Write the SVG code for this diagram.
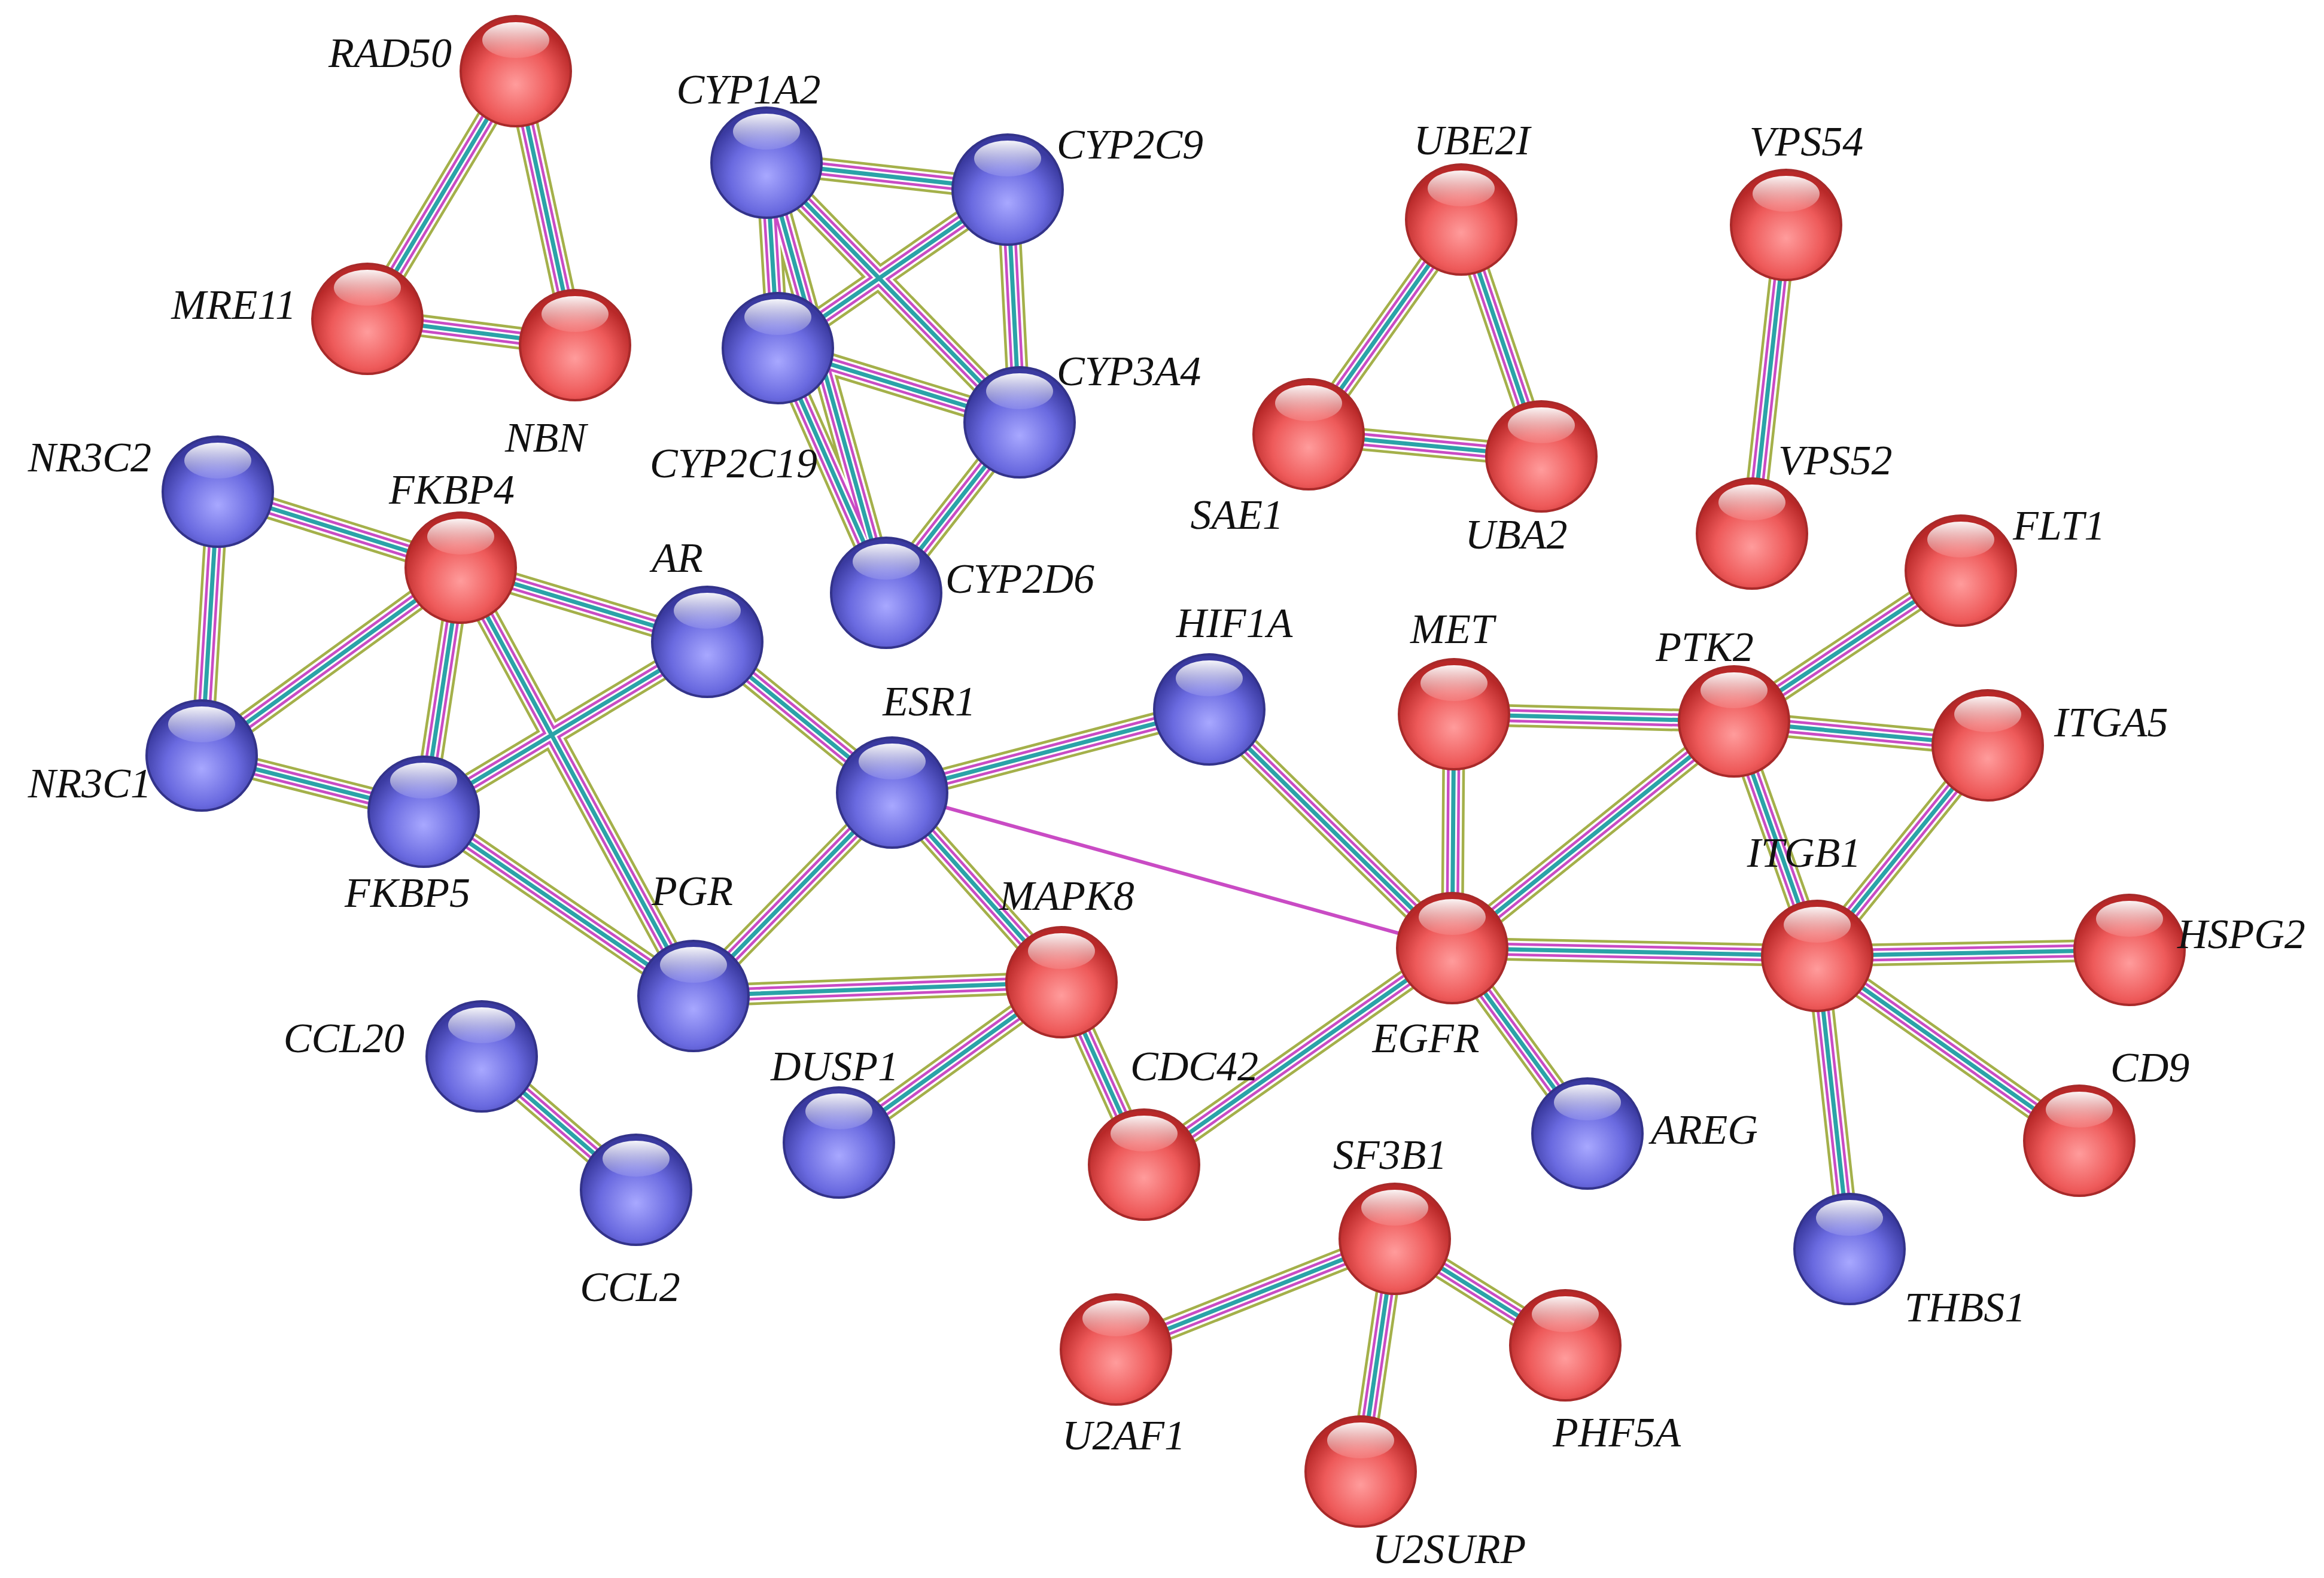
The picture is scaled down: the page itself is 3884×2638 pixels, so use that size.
<svg xmlns="http://www.w3.org/2000/svg" xmlns:xlink="http://www.w3.org/1999/xlink" width="3884" height="2638" viewBox="0 0 3884 2638">
<style>
.s1{stroke:#a4b04a;stroke-width:38;fill:none}
.s2{stroke:#fff;stroke-width:29;fill:none}
.s3{stroke:#c94bc4;stroke-width:22;fill:none}
.s4{stroke:#fff;stroke-width:13;fill:none}
.s5{stroke:#2aa3a8;stroke-width:7;fill:none}
.r use{fill:url(#gr);stroke:#a82a2a;stroke-width:4}
.u use{fill:url(#gb);stroke:#33338a;stroke-width:4}
.h{fill:url(#hl);stroke:none}
text{font-family:"Liberation Serif","DejaVu Serif",serif;font-style:italic;font-size:70px;fill:#111}
</style>
<defs>
<radialGradient id="gr" cx="50%" cy="62%" r="55%"><stop offset="0" stop-color="#ff9c9c"/><stop offset="0.6" stop-color="#ee5a5a"/><stop offset="1" stop-color="#b82828"/></radialGradient>
<radialGradient id="gb" cx="50%" cy="62%" r="55%"><stop offset="0" stop-color="#a8a8ff"/><stop offset="0.6" stop-color="#6a6ae0"/><stop offset="1" stop-color="#3a3aa0"/></radialGradient>
<linearGradient id="hl" x1="0" y1="0" x2="0" y2="1"><stop offset="0" stop-color="#fff" stop-opacity="0.95"/><stop offset="1" stop-color="#fff" stop-opacity="0.1"/></linearGradient>
<g id="E">
<path d="M862 119L614 533M862 119L961 577M614 533L961 577"/>
<path d="M1281 272L1684 317M1281 272L1300 582M1281 272L1704 706M1281 272L1481 991M1684 317L1300 582M1684 317L1704 706M1300 582L1704 706M1300 582L1481 991M1704 706L1481 991"/>
<path d="M2442 367L2187 726M2442 367L2576 763M2187 726L2576 763M2985 376L2928 892"/>
<path d="M364 822L770 949M364 822L337 1263M337 1263L770 949M337 1263L708 1357M770 949L1182 1073M770 949L708 1357M770 949L1159 1665M1182 1073L708 1357M1182 1073L1491 1325M708 1357L1159 1665M1491 1325L1159 1665M1491 1325L2021 1186M1491 1325L1774 1642M1159 1665L1774 1642"/>
<path d="M1774 1642L1402 1910M1774 1642L1912 1947M1912 1947L2427 1585M2021 1186L2427 1585M2430 1194L2898 1206M2430 1194L2427 1585M2898 1206L2427 1585M2898 1206L3277 954M2898 1206L3322 1246M2898 1206L3037 1598M3322 1246L3037 1598M3037 1598L2427 1585M3037 1598L3559 1588M3037 1598L3475 1907M3037 1598L3091 2088M2427 1585L2653 1895"/>
<path d="M2331 2071L1865 2256M2331 2071L2616 2249M2331 2071L2274 2460M805 1766L1063 1989"/>
</g>
<g id="nd"><circle r="92"/><ellipse class="h" cx="0" cy="-52" rx="56" ry="30"/></g>
</defs>
<rect width="3884" height="2638" fill="#fff"/>
<g id="connectors">
<use href="#E" class="s1"/><use href="#E" class="s2"/><use href="#E" class="s3"/><use href="#E" class="s4"/><use href="#E" class="s5"/>
<path d="M1491 1325L2427 1585" stroke="#c94bc4" stroke-width="6"/>
</g>
<g id="RAD50" class="r"><use href="#nd" x="862" y="119"/><text x="755" y="112" text-anchor="end">RAD50</text></g>
<g id="MRE11" class="r"><use href="#nd" x="614" y="533"/><text x="495" y="533" text-anchor="end">MRE11</text></g>
<g id="NBN" class="r"><use href="#nd" x="961" y="577"/><text x="912" y="755" text-anchor="middle">NBN</text></g>
<g id="CYP1A2" class="u"><use href="#nd" x="1281" y="272"/><text x="1251" y="173" text-anchor="middle">CYP1A2</text></g>
<g id="CYP2C9" class="u"><use href="#nd" x="1684" y="317"/><text x="1766" y="265">CYP2C9</text></g>
<g id="CYP2C19" class="u"><use href="#nd" x="1300" y="582"/><text x="1226" y="798" text-anchor="middle">CYP2C19</text></g>
<g id="CYP3A4" class="u"><use href="#nd" x="1704" y="706"/><text x="1766" y="644">CYP3A4</text></g>
<g id="CYP2D6" class="u"><use href="#nd" x="1481" y="991"/><text x="1580" y="991">CYP2D6</text></g>
<g id="UBE2I" class="r"><use href="#nd" x="2442" y="367"/><text x="2460" y="258" text-anchor="middle">UBE2I</text></g>
<g id="SAE1" class="r"><use href="#nd" x="2187" y="726"/><text x="2145" y="884" text-anchor="end">SAE1</text></g>
<g id="UBA2" class="r"><use href="#nd" x="2576" y="763"/><text x="2534" y="917" text-anchor="middle">UBA2</text></g>
<g id="VPS54" class="r"><use href="#nd" x="2985" y="376"/><text x="3019" y="260" text-anchor="middle">VPS54</text></g>
<g id="VPS52" class="r"><use href="#nd" x="2928" y="892"/><text x="2972" y="793">VPS52</text></g>
<g id="NR3C2" class="u"><use href="#nd" x="364" y="822"/><text x="253" y="788" text-anchor="end">NR3C2</text></g>
<g id="FKBP4" class="r"><use href="#nd" x="770" y="949"/><text x="755" y="842" text-anchor="middle">FKBP4</text></g>
<g id="AR" class="u"><use href="#nd" x="1182" y="1073"/><text x="1132" y="956" text-anchor="middle">AR</text></g>
<g id="NR3C1" class="u"><use href="#nd" x="337" y="1263"/><text x="253" y="1333" text-anchor="end">NR3C1</text></g>
<g id="FKBP5" class="u"><use href="#nd" x="708" y="1357"/><text x="681" y="1516" text-anchor="middle">FKBP5</text></g>
<g id="ESR1" class="u"><use href="#nd" x="1491" y="1325"/><text x="1553" y="1196" text-anchor="middle">ESR1</text></g>
<g id="HIF1A" class="u"><use href="#nd" x="2021" y="1186"/><text x="2063" y="1065" text-anchor="middle">HIF1A</text></g>
<g id="PGR" class="u"><use href="#nd" x="1159" y="1665"/><text x="1157" y="1513" text-anchor="middle">PGR</text></g>
<g id="MAPK8" class="r"><use href="#nd" x="1774" y="1642"/><text x="1783" y="1521" text-anchor="middle">MAPK8</text></g>
<g id="MET" class="r"><use href="#nd" x="2430" y="1194"/><text x="2427" y="1075" text-anchor="middle">MET</text></g>
<g id="PTK2" class="r"><use href="#nd" x="2898" y="1206"/><text x="2849" y="1105" text-anchor="middle">PTK2</text></g>
<g id="FLT1" class="r"><use href="#nd" x="3277" y="954"/><text x="3364" y="902">FLT1</text></g>
<g id="ITGA5" class="r"><use href="#nd" x="3322" y="1246"/><text x="3433" y="1231">ITGA5</text></g>
<g id="ITGB1" class="r"><use href="#nd" x="3037" y="1598"/><text x="3015" y="1449" text-anchor="middle">ITGB1</text></g>
<g id="HSPG2" class="r"><use href="#nd" x="3559" y="1588"/><text x="3639" y="1585">HSPG2</text></g>
<g id="EGFR" class="r"><use href="#nd" x="2427" y="1585"/><text x="2383" y="1759" text-anchor="middle">EGFR</text></g>
<g id="CD9" class="r"><use href="#nd" x="3475" y="1907"/><text x="3527" y="1808">CD9</text></g>
<g id="AREG" class="u"><use href="#nd" x="2653" y="1895"/><text x="2759" y="1912">AREG</text></g>
<g id="THBS1" class="u"><use href="#nd" x="3091" y="2088"/><text x="3183" y="2209">THBS1</text></g>
<g id="CCL20" class="u"><use href="#nd" x="805" y="1766"/><text x="676" y="1759" text-anchor="end">CCL20</text></g>
<g id="CCL2" class="u"><use href="#nd" x="1063" y="1989"/><text x="1053" y="2175" text-anchor="middle">CCL2</text></g>
<g id="DUSP1" class="u"><use href="#nd" x="1402" y="1910"/><text x="1395" y="1806" text-anchor="middle">DUSP1</text></g>
<g id="CDC42" class="r"><use href="#nd" x="1912" y="1947"/><text x="1996" y="1806" text-anchor="middle">CDC42</text></g>
<g id="SF3B1" class="r"><use href="#nd" x="2331" y="2071"/><text x="2323" y="1954" text-anchor="middle">SF3B1</text></g>
<g id="U2AF1" class="r"><use href="#nd" x="1865" y="2256"/><text x="1878" y="2423" text-anchor="middle">U2AF1</text></g>
<g id="PHF5A" class="r"><use href="#nd" x="2616" y="2249"/><text x="2702" y="2418" text-anchor="middle">PHF5A</text></g>
<g id="U2SURP" class="r"><use href="#nd" x="2274" y="2460"/><text x="2422" y="2613" text-anchor="middle">U2SURP</text></g>
</svg>
